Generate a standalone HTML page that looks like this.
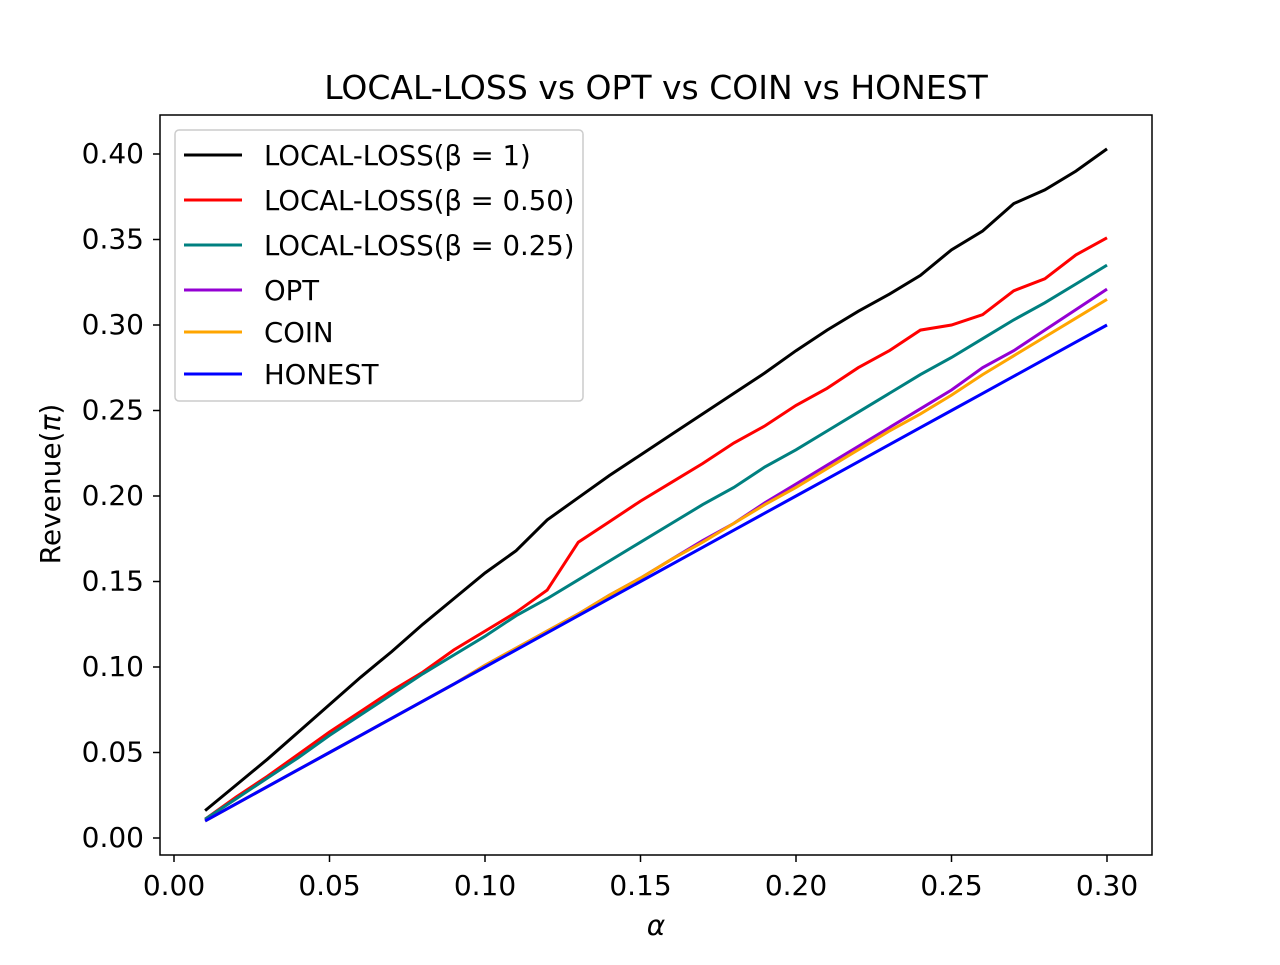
<!DOCTYPE html>
<html><head><meta charset="utf-8"><style>
body{margin:0;background:#fff;}
svg text{font-family:"DejaVu Sans","Liberation Sans",sans-serif;fill:#000;}
</style></head><body>
<svg id="chart" width="1280" height="960" xmlns="http://www.w3.org/2000/svg">
<rect width="1280" height="960" fill="#fff"/>
<text x="656" y="99" font-size="33" text-anchor="middle">LOCAL-LOSS vs OPT vs COIN vs HONEST</text>
<g id="plot"></g>
<rect x="160" y="115" width="992" height="740" fill="none" stroke="#000" stroke-width="1.5"/>
<text x="656" y="935" font-size="28" font-style="italic" text-anchor="middle">α</text>
<text transform="translate(60,484) rotate(-90)" font-size="28" text-anchor="middle">Revenue(<tspan font-style="italic">π</tspan>)</text>
<g id="legend"></g>
</svg>
<script>
const alphas=[0.01,0.02,0.03,0.04,0.05,0.06,0.07,0.08,0.09,0.10,0.11,0.12,0.13,0.14,0.15,0.16,0.17,0.18,0.19,0.20,0.21,0.22,0.23,0.24,0.25,0.26,0.27,0.28,0.29,0.30];
const localLoss1=[0.016,0.031,0.046,0.062,0.078,0.094,0.109,0.125,0.140,0.155,0.168,0.186,0.199,0.212,0.224,0.236,0.248,0.260,0.272,0.285,0.297,0.308,0.318,0.329,0.344,0.355,0.371,0.379,0.390,0.403];
const localLoss050=[0.011,0.024,0.036,0.049,0.062,0.074,0.086,0.097,0.110,0.121,0.132,0.145,0.173,0.185,0.197,0.208,0.219,0.231,0.241,0.253,0.263,0.275,0.285,0.297,0.300,0.306,0.320,0.327,0.341,0.351];
const localLoss025=[0.011,0.023,0.035,0.047,0.060,0.072,0.084,0.096,0.107,0.118,0.130,0.140,0.151,0.162,0.173,0.184,0.195,0.205,0.217,0.227,0.238,0.249,0.260,0.271,0.281,0.292,0.303,0.313,0.324,0.335];
const opt=[0.010,0.020,0.030,0.040,0.050,0.060,0.070,0.080,0.090,0.101,0.111,0.121,0.131,0.142,0.152,0.163,0.174,0.184,0.196,0.207,0.218,0.229,0.240,0.251,0.262,0.275,0.285,0.297,0.309,0.321];
const coin=[0.010,0.020,0.030,0.040,0.050,0.060,0.070,0.080,0.090,0.101,0.111,0.121,0.131,0.142,0.152,0.163,0.173,0.184,0.195,0.205,0.216,0.227,0.238,0.248,0.259,0.271,0.282,0.293,0.304,0.315];
const honest=[0.010,0.020,0.030,0.040,0.050,0.060,0.070,0.080,0.090,0.100,0.110,0.120,0.130,0.140,0.150,0.160,0.170,0.180,0.190,0.200,0.210,0.220,0.230,0.240,0.250,0.260,0.270,0.280,0.290,0.300];
const xTicks=[0,0.05,0.10,0.15,0.20,0.25,0.30];
const yTicks=[0,0.05,0.10,0.15,0.20,0.25,0.30,0.35,0.40];
const seriesNames=["LOCAL-LOSS(β = 1)","LOCAL-LOSS(β = 0.50)","LOCAL-LOSS(β = 0.25)","OPT","COIN","HONEST"];

const NS="http://www.w3.org/2000/svg";
const xs=v=>174+v*(1107-174)/0.30;
const ys=v=>838-v*(838-154)/0.40;
const plot=document.getElementById('plot');
function mk(tag,attrs,parent){const e=document.createElementNS(NS,tag);for(const k in attrs)e.setAttribute(k,attrs[k]);parent.appendChild(e);return e;}

xTicks.forEach(t=>{
  const l=mk('line',{x1:xs(t),x2:xs(t),y1:855,y2:862,stroke:'#000','stroke-width':1.5},plot);
  
  
  const tx=mk('text',{x:xs(t),y:895,'font-size':28,'text-anchor':'middle'},plot);
  tx.textContent=t.toFixed(2);
  
  
});
yTicks.forEach(t=>{
  const l=mk('line',{x1:153,x2:160,y1:ys(t),y2:ys(t),stroke:'#000','stroke-width':1.5},plot);
  
  
  const tx=mk('text',{x:144,y:ys(t)+9,'font-size':28,'text-anchor':'end'},plot);
  tx.textContent=t.toFixed(2);
  
  
});
const series=[localLoss1,localLoss050,localLoss025,opt,coin,honest];
const colors=['#000000','#ff0000','#008080','#9400d3','#ffa500','#0000ff'];
const keys=['local-loss-beta-1','local-loss-beta-050','local-loss-beta-025','opt','coin','honest'];
for(let i=0;i<series.length;i++){
  const d=series[i].map((v,j)=>(j?'L':'M')+xs(alphas[j]).toFixed(1)+','+ys(v).toFixed(1)).join('');
  const p=mk('path',{d:d,fill:'none',stroke:colors[i],'stroke-width':3},plot);
  
  
}
const lg=document.getElementById('legend');
const box=mk('rect',{x:175,y:130,width:408,height:271,rx:4,fill:'#fff',stroke:'#ccc','stroke-width':1.5},lg);


const ly=[155,200,245,290,332,374];
seriesNames.forEach((n,i)=>{
  const l=mk('line',{x1:184,x2:242,y1:ly[i],y2:ly[i],stroke:colors[i],'stroke-width':3},lg);
  
  
  const t=mk('text',{x:264,y:ly[i]+10,'font-size':27.5},lg);
  t.textContent=n;
  
  
});
</script>
</body></html>
